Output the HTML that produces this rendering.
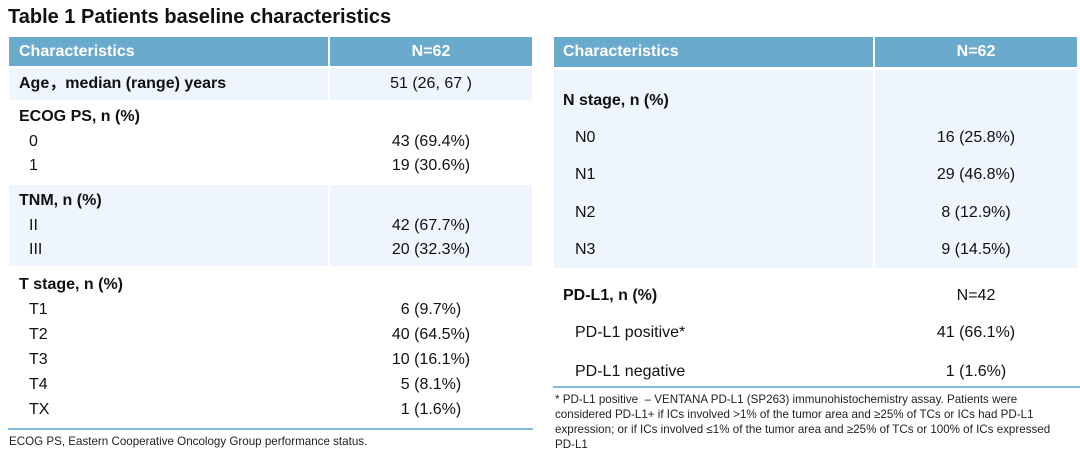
<!DOCTYPE html>
<html><head><meta charset="utf-8"><style>
body{margin:0;width:1080px;height:464px;background:#fff;position:relative;overflow:hidden;font-family:"Liberation Sans","Noto Sans CJK SC",sans-serif;color:#111}
div{position:absolute}
.t{white-space:nowrap;font-size:16px;line-height:20px}
.b{font-weight:bold}
.c{text-align:center}
.h{background:#6aaacd}
.lb{background:#eef5fd}
.w{color:#fff;font-weight:bold}
.fn{font-size:11.6px;line-height:15px;white-space:nowrap;color:#222}
</style></head><body>
<div class="t b" style="left:8px;top:5px;font-size:20px;line-height:24px">Table 1 Patients baseline characteristics</div>

<!-- left table -->
<div class="h" style="left:9px;top:37px;width:319px;height:29px"></div>
<div class="h" style="left:330px;top:37px;width:202px;height:29px"></div>
<div class="lb" style="left:9px;top:68px;width:319px;height:32px"></div>
<div class="lb" style="left:330px;top:68px;width:202px;height:32px"></div>
<div class="lb" style="left:9px;top:185px;width:319px;height:81px"></div>
<div class="lb" style="left:330px;top:185px;width:202px;height:81px"></div>
<div style="left:8px;top:428px;width:525px;height:2px;background:#82bbdc"></div>

<div class="t w" style="left:19px;top:42px">Characteristics</div>
<div class="t w c" style="left:330px;width:202px;top:42px">N=62</div>
<div class="t b" style="left:19px;top:74px">Age，median (range) years</div>
<div class="t c" style="left:330px;width:202px;top:74px">51 (26, 67 )</div>
<div class="t b" style="left:19px;top:107px">ECOG PS, n (%)</div>
<div class="t" style="left:29px;top:132px">0</div><div class="t c" style="left:330px;width:202px;top:132px">43 (69.4%)</div>
<div class="t" style="left:29px;top:156px">1</div><div class="t c" style="left:330px;width:202px;top:156px">19 (30.6%)</div>
<div class="t b" style="left:19px;top:191px">TNM, n (%)</div>
<div class="t" style="left:29px;top:216px">II</div><div class="t c" style="left:330px;width:202px;top:216px">42 (67.7%)</div>
<div class="t" style="left:29px;top:240px">III</div><div class="t c" style="left:330px;width:202px;top:240px">20 (32.3%)</div>
<div class="t b" style="left:19px;top:275px">T stage, n (%)</div>
<div class="t" style="left:29px;top:300px">T1</div><div class="t c" style="left:330px;width:202px;top:300px">6 (9.7%)</div>
<div class="t" style="left:29px;top:325px">T2</div><div class="t c" style="left:330px;width:202px;top:325px">40 (64.5%)</div>
<div class="t" style="left:29px;top:350px">T3</div><div class="t c" style="left:330px;width:202px;top:350px">10 (16.1%)</div>
<div class="t" style="left:29px;top:375px">T4</div><div class="t c" style="left:330px;width:202px;top:375px">5 (8.1%)</div>
<div class="t" style="left:29px;top:400px">TX</div><div class="t c" style="left:330px;width:202px;top:400px">1 (1.6%)</div>
<div class="fn" style="left:9px;top:434px">ECOG PS, Eastern Cooperative Oncology Group performance status.</div>

<!-- right table -->
<div class="h" style="left:554px;top:37px;width:319px;height:30px"></div>
<div class="h" style="left:875px;top:37px;width:202px;height:30px"></div>
<div class="lb" style="left:554px;top:70px;width:319px;height:198px"></div>
<div class="lb" style="left:875px;top:70px;width:202px;height:198px"></div>
<div style="left:553px;top:386px;width:527px;height:2px;background:#82bbdc"></div>

<div class="t w" style="left:563px;top:42px">Characteristics</div>
<div class="t w c" style="left:875px;width:202px;top:42px">N=62</div>
<div class="t b" style="left:563px;top:91px">N stage, n (%)</div>
<div class="t" style="left:575px;top:128px">N0</div><div class="t c" style="left:875px;width:202px;top:128px">16 (25.8%)</div>
<div class="t" style="left:575px;top:165px">N1</div><div class="t c" style="left:875px;width:202px;top:165px">29 (46.8%)</div>
<div class="t" style="left:575px;top:203px">N2</div><div class="t c" style="left:875px;width:202px;top:203px">8 (12.9%)</div>
<div class="t" style="left:575px;top:240px">N3</div><div class="t c" style="left:875px;width:202px;top:240px">9 (14.5%)</div>
<div class="t b" style="left:563px;top:286px">PD-L1, n (%)</div>
<div class="t c" style="left:875px;width:202px;top:286px">N=42</div>
<div class="t" style="left:575px;top:323px">PD-L1 positive*</div><div class="t c" style="left:875px;width:202px;top:323px">41 (66.1%)</div>
<div class="t" style="left:575px;top:362px">PD-L1 negative</div><div class="t c" style="left:875px;width:202px;top:362px">1 (1.6%)</div>
<div class="fn" style="left:555px;top:392px">* PD-L1 positive &nbsp;– VENTANA PD-L1 (SP263) immunohistochemistry assay. Patients were</div>
<div class="fn" style="left:555px;top:407px">considered PD-L1+ if ICs involved &gt;1% of the tumor area and ≥25% of TCs or ICs had PD-L1</div>
<div class="fn" style="left:555px;top:422px">expression; or if ICs involved ≤1% of the tumor area and ≥25% of TCs or 100% of ICs expressed</div>
<div class="fn" style="left:555px;top:437px">PD-L1</div>
</body></html>
